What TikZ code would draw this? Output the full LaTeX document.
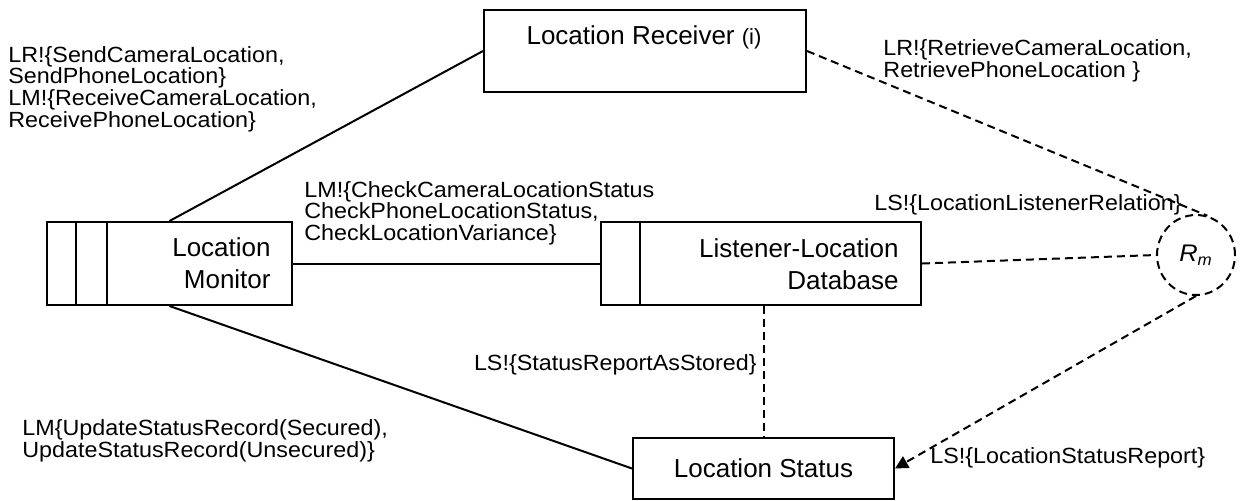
\documentclass[tikz,border=0pt]{standalone}
\usepackage{fontspec}
\setmainfont{Liberation Sans}
\newfontfamily\edgefont{Liberation Sans}[FakeStretch=1.06]
\usetikzlibrary{shapes.geometric, arrows.meta}

\begin{document}
\begin{tikzpicture}[x=0.5pt, y=-0.5pt,
    domainbox/.style={draw, line width=1pt, rectangle, inner sep=0pt,
        font=\fontsize{13}{16}\selectfont},
    domname/.style={inner sep=0pt, font=\fontsize{13}{16}\selectfont},
    relation/.style={line width=1pt, dash pattern=on 4pt off 2.5pt},
    phen/.style={inner sep=0pt, align=left,
        font=\edgefont\fontsize{11}{10.8}\selectfont}]
\path[fill=white] (0, 0) rectangle (1257, 500);

% Draw domains.
\node[domainbox, anchor=north west, minimum width=161pt, minimum height=41pt]
    (lr) at (483, 9) {};
\node[domname] (lrname) at (644, 37)
    {Location Receiver {\fontsize{11}{13}\selectfont(i)}};

\node[domainbox, anchor=north west, minimum width=122.5pt, minimum height=41.5pt]
    (lm) at (46, 221) {};
\draw[line width=1pt] ([xshift=15pt]lm.north west) -- ([xshift=15pt]lm.south west);
\draw[line width=1pt] ([xshift=30.5pt]lm.north west) -- ([xshift=30.5pt]lm.south west);
\node[domname, anchor=east, align=right] (lmname) at (271, 263) {Location\\Monitor};

\node[domainbox, anchor=north west, minimum width=160pt, minimum height=41.5pt]
    (lld) at (600, 221) {};
\draw[line width=1pt] ([xshift=20pt]lld.north west) -- ([xshift=20pt]lld.south west);
\node[domname, anchor=east, align=right] (lldname) at (899, 264)
    {Listener-Location\\Database};

\node[domainbox, anchor=north west, minimum width=130.5pt, minimum height=30.5pt]
    (ls) at (632, 437) {Location Status};

% Draw requirement.
\node[draw, ellipse, relation, minimum width=39pt, minimum height=40pt, inner sep=0pt,
    font=\edgefont\itshape\fontsize{12}{14}\selectfont] (rm) at (1196, 255)
    {R\textsubscript{m}};

% Draw interfaces.
\draw[line width=1pt] (lm.north) -- (lr.west);
\draw[line width=1pt] (lm.east) -- (lld.west);
\draw[line width=1pt] (lm.south) -- (ls.west);

% Draw references.
\draw[relation] (lr.east) -- (rm.74);
\draw[relation] (lld.east) -- (rm.west);
\draw[relation] (lld.south -| ls.north) -- (ls.north);
\draw[relation, -{Triangle[length=6.5pt, width=6.5pt]}] (rm.south) -- (ls.east);

% Draw phenomena.
\node[phen, anchor=west] (sendlbl) at (8, 89)
    {LR!\{SendCameraLocation,\\SendPhoneLocation\}\\LM!\{ReceiveCameraLocation,\\ReceivePhoneLocation\}};
\node[phen, anchor=west] (retrievelbl) at (883, 61)
    {LR!\{RetrieveCameraLocation,\\RetrievePhoneLocation \}};
\node[phen, anchor=west] (checklbl) at (304, 213)
    {LM!\{CheckCameraLocationStatus\\CheckPhoneLocationStatus,\\CheckLocationVariance\}};
\node[phen, anchor=east] (relationlbl) at (1182, 205) {LS!\{LocationListenerRelation\}};
\node[phen, anchor=east] (storedlbl) at (757, 365) {LS!\{StatusReportAsStored\}};
\node[phen, anchor=west] (updatelbl) at (22, 441)
    {LM\{UpdateStatusRecord(Secured),\\UpdateStatusRecord(Unsecured)\}};
\node[phen, anchor=west] (reportlbl) at (930, 458) {LS!\{LocationStatusReport\}};

\end{tikzpicture}
\end{document}
